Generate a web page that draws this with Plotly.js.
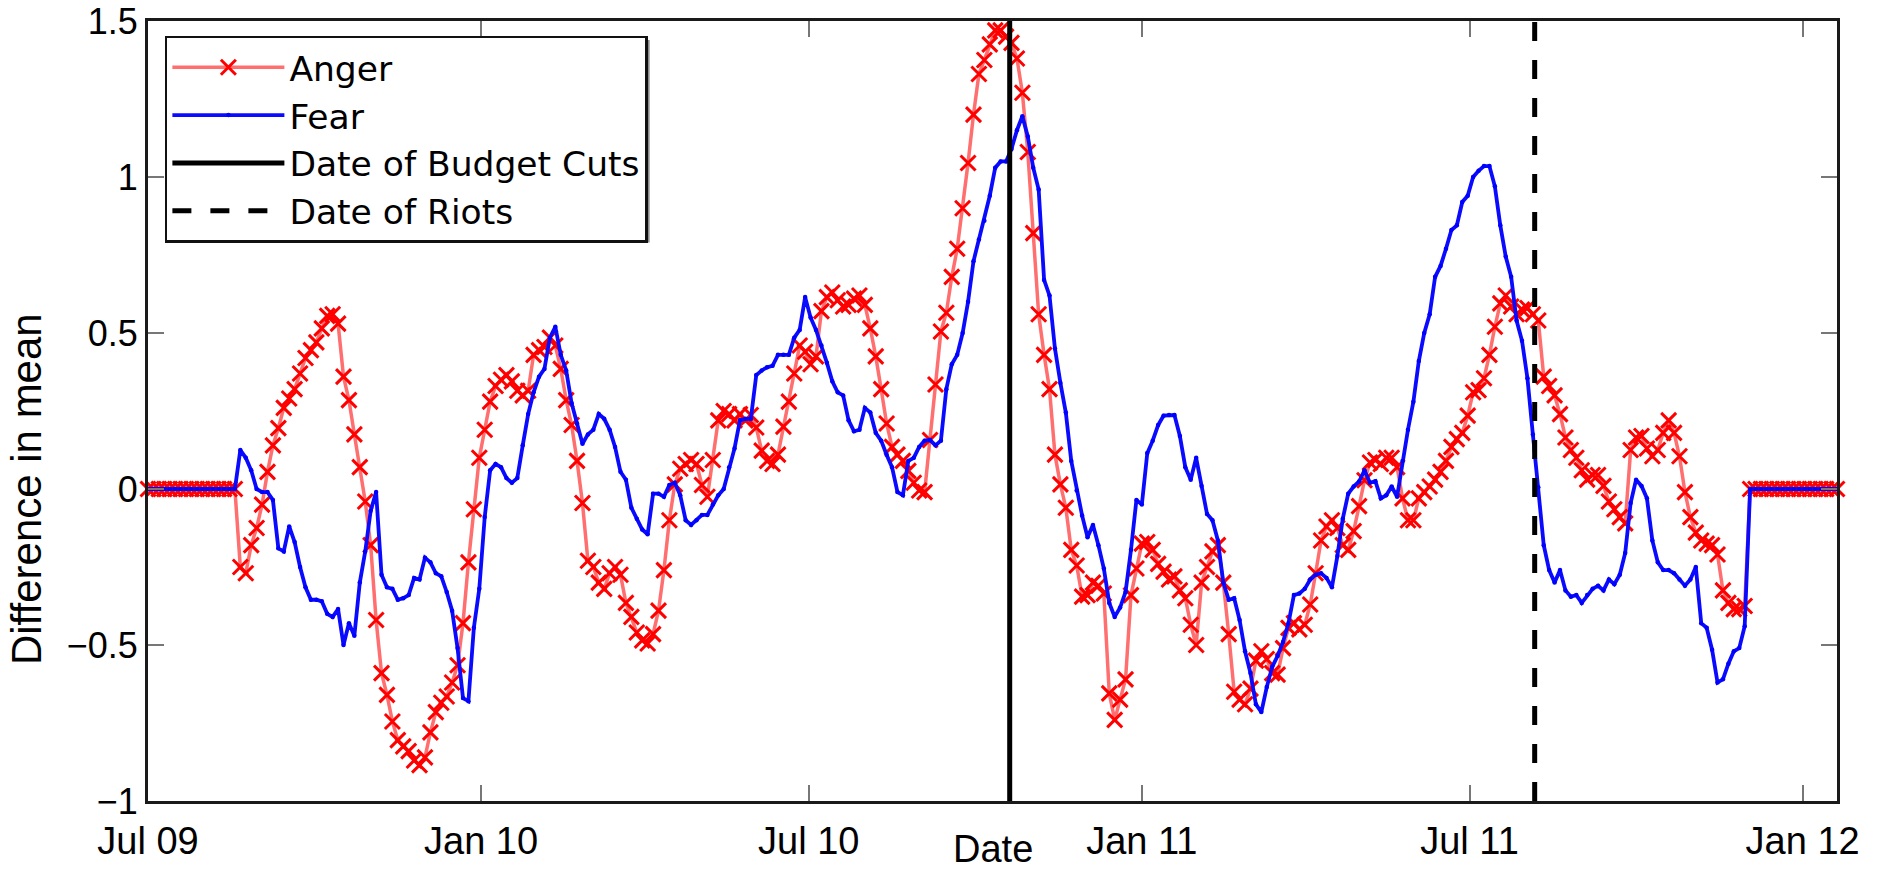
<!DOCTYPE html>
<html>
<head>
<meta charset="utf-8">
<script src="https://cdn.plot.ly/plotly-3.0.1.min.js"></script>
<style>html,body{margin:0;padding:0;background:#fff;}#chart{width:1878px;height:895px;}</style>
</head>
<body>
<div id="chart"></div>
<script>
// Series sampled every 3 days starting 2009-07-01
const START_DATE = '2009-07-01';
const STEP_DAYS = 3;

const anger = [
0,0,0,0,0,0,0,0,0,0,0,0,0,0,0,0,0,
-0.25,-0.27,-0.18,-0.125,-0.05,0.055,0.14,0.195,0.26,0.29,0.32,0.37,0.42,0.445,0.47,0.515,0.555,0.56,0.53,0.36,0.285,0.175,0.07,-0.04,-0.18,-0.42,-0.59,-0.66,-0.745,-0.805,-0.825,-0.84,-0.87,-0.885,-0.86,-0.78,-0.715,-0.685,-0.665,-0.62,-0.565,-0.43,-0.235,-0.065,0.10,0.19,
0.28,0.33,0.35,0.365,0.345,0.315,0.30,0.315,0.43,0.445,0.455,0.485,0.46,0.385,0.285,0.205,0.09,-0.045,-0.23,-0.25,-0.30,-0.32,-0.27,-0.25,-0.275,-0.365,-0.41,-0.46,-0.485,-0.495,-0.465,-0.39,-0.26,-0.10,0.015,0.065,0.08,0.093,0.08,0.013,-0.025,0.093,0.22,0.25,0.24,0.22,0.24,
0.22,0.237,0.197,0.123,0.09,0.08,0.11,0.20,0.28,0.37,0.46,0.44,0.40,0.425,0.57,0.615,0.63,0.605,0.585,0.59,0.61,0.62,0.59,0.515,0.425,0.32,0.21,0.135,0.11,0.09,0.058,0.02,-0.005,-0.01,0.157,0.335,0.505,0.565,0.68,0.77,0.90,1.045,1.20,1.33,1.375,1.425,1.47,
1.47,1.45,1.43,1.38,1.27,1.08,0.82,0.56,0.43,0.32,0.11,0.015,-0.06,-0.195,-0.245,-0.345,-0.34,-0.30,-0.31,-0.335,-0.655,-0.74,-0.675,-0.61,-0.34,-0.255,-0.175,-0.17,-0.195,-0.24,-0.265,-0.29,-0.28,-0.325,-0.35,-0.435,-0.50,-0.30,-0.25,-0.20,-0.18,-0.30,-0.465,-0.65,-0.675,-0.69,-0.64,
-0.55,-0.52,-0.545,-0.59,-0.595,-0.51,-0.445,-0.43,-0.45,-0.435,-0.37,-0.27,-0.165,-0.12,-0.10,-0.125,-0.18,-0.195,-0.135,-0.055,0.028,0.085,0.093,0.08,0.10,0.10,0.07,-0.03,-0.10,-0.10,-0.03,-0.01,0.008,0.03,0.055,0.09,0.135,0.16,0.18,0.235,0.31,0.317,0.355,0.43,0.52,0.595,0.62,
0.585,0.56,0.575,0.58,0.56,0.54,0.36,0.33,0.30,0.24,0.165,0.125,0.10,0.06,0.03,0.045,0.045,0.01,-0.04,-0.065,-0.09,-0.11,0.125,0.165,0.17,0.13,0.105,0.125,0.18,0.22,0.18,0.105,-0.01,-0.09,-0.14,-0.165,-0.175,-0.18,-0.21,-0.325,-0.365,-0.385,-0.385,-0.375,
0,0,0,0,0,0,0,0,0,0,0,0,0,0,0,0,0
];

const fear = [
0,0,0,0,0,0,0,0,0,0,0,0,0,0,0,0,0,
0.125,0.10,0.06,0.00,-0.01,-0.01,-0.035,-0.19,-0.20,-0.12,-0.17,-0.25,-0.315,-0.355,-0.355,-0.36,-0.40,-0.41,-0.385,-0.50,-0.43,-0.47,-0.30,-0.20,-0.07,-0.01,-0.275,-0.315,-0.32,-0.355,-0.35,-0.34,-0.285,-0.29,-0.22,-0.235,-0.27,-0.28,-0.33,-0.39,-0.51,-0.67,-0.68,-0.445,-0.32,-0.09,
0.06,0.08,0.07,0.035,0.02,0.035,0.14,0.24,0.31,0.36,0.385,0.485,0.52,0.43,0.38,0.275,0.21,0.145,0.175,0.19,0.24,0.225,0.19,0.135,0.055,0.03,-0.06,-0.095,-0.13,-0.145,-0.015,-0.015,-0.025,0.013,0.02,-0.02,-0.10,-0.115,-0.10,-0.083,-0.083,-0.05,-0.02,0,0.07,0.13,0.22,
0.225,0.225,0.365,0.38,0.39,0.395,0.43,0.43,0.43,0.485,0.51,0.615,0.55,0.51,0.46,0.405,0.345,0.31,0.30,0.22,0.185,0.19,0.26,0.245,0.18,0.155,0.11,0.07,-0.01,-0.02,0.09,0.10,0.135,0.155,0.157,0.14,0.155,0.32,0.40,0.43,0.50,0.60,0.73,0.80,0.86,0.94,1.03,
1.05,1.05,1.09,1.15,1.195,1.13,1.03,0.96,0.67,0.62,0.45,0.34,0.245,0.09,-0.005,-0.085,-0.155,-0.115,-0.18,-0.255,-0.365,-0.41,-0.38,-0.33,-0.195,-0.035,-0.05,0.115,0.155,0.205,0.235,0.237,0.237,0.17,0.07,0.03,0.10,0.01,-0.08,-0.10,-0.165,-0.30,-0.355,-0.35,-0.42,-0.52,-0.59,
-0.69,-0.715,-0.635,-0.57,-0.535,-0.49,-0.43,-0.34,-0.335,-0.32,-0.29,-0.275,-0.27,-0.285,-0.315,-0.215,-0.095,-0.015,0.008,0.024,0.06,0.02,0.025,-0.03,-0.02,0.008,-0.025,0.09,0.19,0.28,0.41,0.50,0.56,0.68,0.715,0.77,0.83,0.845,0.92,0.94,1.00,1.02,1.035,1.035,0.97,0.845,0.745,
0.68,0.54,0.475,0.355,0.175,0.006,-0.18,-0.26,-0.30,-0.26,-0.325,-0.345,-0.34,-0.365,-0.34,-0.32,-0.31,-0.325,-0.29,-0.305,-0.275,-0.205,-0.045,0.03,0.01,-0.03,-0.165,-0.235,-0.26,-0.26,-0.27,-0.29,-0.31,-0.29,-0.25,-0.43,-0.445,-0.515,-0.62,-0.61,-0.56,-0.52,-0.51,-0.44,
0,0,0,0,0,0,0,0,0,0,0,0,0,0,0,0,0
];

const budgetCutsDate = '2010-10-20';
const riotsDate = '2011-08-06';
const yLimits = [-1, 1.5];
const xLimits = ['2009-07-01', '2012-01-20'];
const xTickVals = ['2009-07-01','2010-01-01','2010-07-01','2011-01-01','2011-07-01','2012-01-01'];
const xTickText = ['Jul 09','Jan 10','Jul 10','Jan 11','Jul 11','Jan 12'];
const yTickVals = [-1,-0.5,0,0.5,1,1.5];
const yTickText = ['\u22121','\u22120.5','0','0.5','1','1.5'];
const xTitle = 'Date';
const yTitle = 'Difference in mean';

const t0 = Date.UTC(2009, 6, 1);
const dates = anger.map((_, i) => new Date(t0 + i * STEP_DAYS * 86400000).toISOString().slice(0, 10));

const FONT = 'Liberation Sans, Arial, Helvetica, sans-serif';
const LEGEND_FONT = 'DejaVu Sans, Liberation Sans, sans-serif';

const traces = [
  {
    x: dates, y: anger, name: 'Anger', type: 'scatter', mode: 'lines+markers',
    line: {color: 'rgba(255,50,50,0.7)', width: 3.5},
    marker: {symbol: 'x-thin-open', size: 15, color: 'rgb(255,0,0)', line: {color: 'rgb(255,0,0)', width: 3}},
    cliponaxis: false
  },
  {
    x: dates, y: fear, name: 'Fear', type: 'scatter', mode: 'lines+markers',
    line: {color: 'rgb(10,10,255)', width: 3.8},
    marker: {symbol: 'circle', size: 4.5, color: 'rgb(0,0,255)'},
    cliponaxis: false
  },
  {
    x: [budgetCutsDate, budgetCutsDate], y: yLimits, name: 'Date of Budget Cuts', type: 'scatter', mode: 'lines',
    line: {color: '#000', width: 5}
  },
  {
    x: [riotsDate, riotsDate], y: yLimits, name: 'Date of Riots', type: 'scatter', mode: 'lines',
    line: {color: '#000', width: 5, dash: '19px,19px'}
  }
];

const layout = {
  width: 1878, height: 895,
  margin: {l: 148, r: 41, t: 21, b: 94},
  paper_bgcolor: '#fff', plot_bgcolor: '#fff',
  font: {family: FONT, size: 38, color: '#000'},
  showlegend: true,
  legend: {
    x: 0.01, y: 0.981, xanchor: 'left', yanchor: 'top',
    bgcolor: '#fff', bordercolor: '#111', borderwidth: 2.5,
    font: {family: LEGEND_FONT, size: 34.5, color: '#000'},
    itemwidth: 112, tracegroupgap: 0
  },
  xaxis: {
    type: 'date', range: xLimits,
    tickmode: 'array', tickvals: xTickVals, ticktext: xTickText,
    ticks: 'inside', ticklen: 16, tickwidth: 2, tickcolor: '#777',
    showline: true, linecolor: '#1a1a1a', linewidth: 3, mirror: 'ticks',
    showgrid: false, zeroline: false,
    tickfont: {family: FONT, size: 38, color: '#000'},
    ticklabelstandoff: 4,
    automargin: false
  },
  yaxis: {
    range: yLimits,
    tickmode: 'array', tickvals: yTickVals, ticktext: yTickText,
    ticks: 'inside', ticklen: 16, tickwidth: 2, tickcolor: '#777',
    showline: true, linecolor: '#1a1a1a', linewidth: 3, mirror: 'ticks',
    showgrid: false, zeroline: false,
    tickfont: {family: FONT, size: 36, color: '#000'},
    automargin: false
  },
  annotations: [
    {text: xTitle, xref: 'paper', yref: 'paper', x: 0.5, y: -0.061, xanchor: 'center', yanchor: 'middle',
     showarrow: false, font: {family: FONT, size: 38, color: '#000'}},
    {text: yTitle, xref: 'paper', yref: 'y', x: -0.0722, y: 0, xanchor: 'center', yanchor: 'middle', textangle: -90,
     showarrow: false, font: {family: FONT, size: 42, color: '#000'}}
  ]
};

Plotly.newPlot('chart', traces, layout, {displayModeBar: false, staticPlot: true}).then(gd => {
  // Matlab-style legend shadow on the right edge
  const bg = gd.querySelector('.legend .bg');
  if (!bg) return;
  const r = bg.getBoundingClientRect();
  const c = gd.getBoundingClientRect();
  const fl = gd._fullLayout;
  const px2x = p => (p - c.left - fl._size.l) / fl._size.w;
  const px2y = p => 1 - (p - c.top - fl._size.t) / fl._size.h;
  Plotly.relayout(gd, {shapes: [{
    type: 'rect', xref: 'paper', yref: 'paper', layer: 'above',
    x0: px2x(r.right - 1), x1: px2x(r.right + 3), y0: px2y(r.top + 3), y1: px2y(r.bottom + 1),
    fillcolor: '#8c8c8c', line: {width: 0}
  }]});
});
</script>
</body>
</html>
